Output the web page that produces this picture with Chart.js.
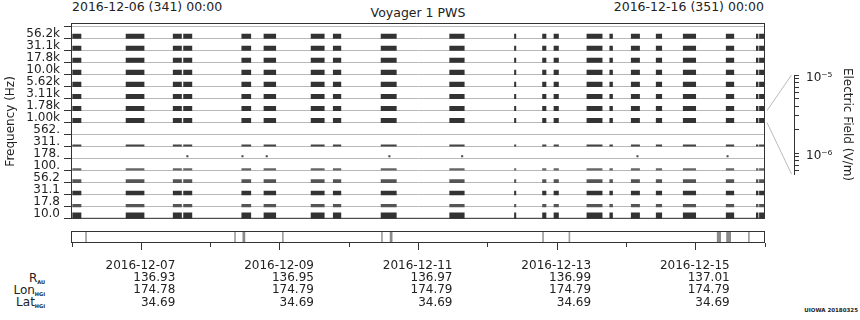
<!DOCTYPE html>
<html>
<head>
<meta charset="utf-8">
<script src="https://cdn.jsdelivr.net/npm/chart.js@4.4.1/dist/chart.umd.min.js"></script>
<style>
  html, body { margin: 0; padding: 0; background: #fff; }
  body { width: 860px; height: 320px; position: relative; overflow: hidden; font-family: 'DejaVu Sans', sans-serif; color: #222; }
  canvas { position: absolute; }
  .txt { position: absolute; font-size: 12.5px; line-height: 14px; white-space: nowrap; }
  .row { position: absolute; left: 0; width: 45px; text-align: right; font-size: 12px; line-height: 12px; white-space: nowrap; }
  .row span { font-size: 5px; font-weight: bold; position: relative; top: 2px; }
  .stamp { position: absolute; right: 2px; top: 307px; font-size: 5.5px; font-weight: bold; }
</style>
</head>
<body>
<div class="txt" style="left:72px; top:0px;">2016-12-06 (341) 00:00</div>
<div class="txt" style="left:0; width:836px; text-align:center; top:6px;">Voyager 1 PWS</div>
<div class="txt" style="left:0; width:764px; text-align:right; top:0px;">2016-12-16 (351) 00:00</div>
<div class="row" style="top:272px;">R<span>AU</span></div>
<div class="row" style="top:284px;">Lon<span>HGI</span></div>
<div class="row" style="top:296px;">Lat<span>HGI</span></div>
<div class="stamp">UIOWA 20180325</div>

<canvas id="cb" width="160" height="130" style="left:700px; top:60px;"></canvas>
<canvas id="main" width="860" height="230" style="left:0; top:0;"></canvas>
<canvas id="strip" width="860" height="95" style="left:0; top:225px;"></canvas>

<script>
// frequency channels, bottom row first
const freqLabels = ['10.0', '17.8', '31.1', '56.2', '100.', '178.', '311.', '562.',
  '1.00k', '1.78k', '3.11k', '5.62k', '10.0k', '17.8k', '31.1k', '56.2k'];

// observation intervals, days after 2016-12-06 00:00
const obsStart = [0.01, 0.78, 1.46, 1.61, 2.45, 2.77, 3.45, 3.77, 4.46, 5.45, 6.385,
  6.79, 6.955, 7.43, 7.76, 8.07, 8.43, 8.82, 9.44, 9.875, 9.92];
const obsEnd = [0.13, 1.04, 1.58, 1.73, 2.58, 2.94, 3.64, 3.88, 4.68, 5.66, 6.405,
  6.84, 7.02, 7.65, 7.80, 8.19, 8.51, 9.00, 9.55, 9.90, 10.0];

// isolated points seen in the 178 Hz row
const dots178 = [1.655, 2.45, 2.80, 4.57, 5.62, 8.15, 9.45];

// strip under the panel
const stripStart = [0.195, 2.345, 2.465, 3.035, 4.465, 4.59, 6.79, 7.17, 9.31, 9.445, 9.76];
const stripEnd = [0.21, 2.36, 2.495, 3.05, 4.48, 4.62, 6.805, 7.185, 9.36, 9.505, 9.775];

const majorDays = [1, 3, 5, 7, 9];
const minorDays = [0, 2, 4, 6, 8, 10];
const dateLabels = ['2016-12-07', '2016-12-09', '2016-12-11', '2016-12-13', '2016-12-15'];
const rAU = ['136.93', '136.95', '136.97', '136.99', '137.01'];
const lonHGI = ['174.78', '174.79', '174.79', '174.79', '174.79'];
const latHGI = ['34.69', '34.69', '34.69', '34.69', '34.69'];

const efMin = 5.45e-7;
const efMax = 1e-5;
const efTicks = [6e-7, 7e-7, 8e-7, 9e-7, 1e-6, 2e-6, 3e-6, 4e-6, 5e-6, 6e-6, 7e-6, 8e-6, 9e-6, 1e-5];

// row look: bar height px, lift above the row line px, colour
const chanHeight = [6, 2.6, 3.8, 3.2, 1.6, 0, 1.2, 0, 4.4, 4.4, 4.4, 4.4, 4.4, 4.4, 4.4, 4.4];
const chanLift = [0, 0, 0, 0, 0.6, 0, 0.6, 0, 0, 0, 0, 0, 0, 0, 0, 0];
const chanColor = ['#333', '#555', '#333', '#555', '#666', '#333', '#444', '#333',
  '#333', '#333', '#333', '#333', '#333', '#333', '#333', '#333'];
const linkedBand = 8;

const font12 = { family: 'DejaVu Sans', size: 12 };
const yMax = 16.2;
const bandPx = 200 / yMax;

const framePlugin = {
  id: 'frame',
  afterDraw(chart) {
    const { ctx, chartArea: a } = chart;
    ctx.save();
    ctx.strokeStyle = '#333';
    ctx.lineWidth = 1;
    ctx.strokeRect(a.left - 0.5, a.top - 0.5, a.right - a.left, a.bottom - a.top);
    ctx.restore();
  },
};

// colour bar axis on the right
const cbChart = new Chart(document.getElementById('cb'), {
  type: 'line',
  data: { datasets: [] },
  options: {
    animation: false,
    responsive: false,
    events: [],
    layout: { padding: { left: 88, top: 15, bottom: 16, right: 0 } },
    plugins: { legend: { display: false }, tooltip: { enabled: false } },
    scales: {
      x: { display: false },
      y: {
        type: 'logarithmic',
        position: 'right',
        min: efMin,
        max: efMax,
        afterBuildTicks: (s) => { s.ticks = efTicks.map((v) => ({ value: v })); },
        afterFit: (s) => { s.width = 66; },
        grid: { drawOnChartArea: false, tickLength: 5, tickColor: '#333' },
        border: { display: true, color: '#333' },
        ticks: {
          autoSkip: false,
          padding: 7,
          labelOffset: 3,
          color: '#222',
          font: font12,
          callback: (v) => {
            if (Math.abs(v - 1e-5) < 1e-12) return '10\u207B\u2075';
            if (Math.abs(v - 1e-6) < 1e-13) return '10\u207B\u2076';
            return '';
          },
        },
        title: {
          display: true,
          text: 'Electric Field (V/m)',
          color: '#222',
          font: font12,
          padding: { top: 6, bottom: 0 },
        },
      },
    },
  },
});

const linkPlugin = {
  id: 'link',
  afterDraw(chart) {
    const { ctx } = chart;
    const y = chart.scales.y;
    const cb = cbChart.chartArea;
    const x0 = chart.chartArea.right + 2;
    const x1 = 700 + cb.right - 2.5;
    ctx.save();
    ctx.strokeStyle = '#bbb';
    ctx.lineWidth = 1;
    ctx.beginPath();
    ctx.moveTo(x0, y.getPixelForValue(linkedBand + 1));
    ctx.lineTo(x1, 60 + cb.top);
    ctx.moveTo(x0, y.getPixelForValue(linkedBand));
    ctx.lineTo(x1, 60 + cb.bottom);
    ctx.stroke();
    ctx.restore();
  },
};

const datasets = [];
freqLabels.forEach((lab, i) => {
  const h = chanHeight[i];
  if (!h) return;
  datasets.push({
    label: lab,
    data: obsStart.map((s, k) => ({ x: [s, obsEnd[k]], y: i + (chanLift[i] + h / 2) / bandPx })),
    backgroundColor: chanColor[i],
    barThickness: h,
    grouped: false,
  });
});
datasets.push({
  label: '178. dots',
  data: dots178.map((t) => ({ x: [t, t + 0.02], y: 5 + 2.5 / bandPx })),
  backgroundColor: '#444',
  barThickness: 1.2,
  grouped: false,
});

new Chart(document.getElementById('main'), {
  type: 'bar',
  data: { datasets },
  plugins: [framePlugin, linkPlugin],
  options: {
    indexAxis: 'y',
    animation: false,
    responsive: false,
    events: [],
    layout: { padding: { left: 0, right: 95, top: 24, bottom: 6 } },
    plugins: { legend: { display: false }, tooltip: { enabled: false } },
    scales: {
      x: { type: 'linear', min: 0, max: 10, display: false },
      y: {
        type: 'linear',
        min: 0,
        max: yMax,
        offset: false,
        afterBuildTicks: (s) => { s.ticks = freqLabels.map((l, i) => ({ value: i })).concat([{ value: 16 }]); },
        afterFit: (s) => { s.width = 72; },
        grid: { offset: false, color: '#b8b8b8', tickColor: '#333', tickLength: 8 },
        border: { display: false },
        ticks: {
          autoSkip: false,
          padding: 4,
          labelOffset: -4.5,
          color: '#222',
          font: font12,
          callback: (v) => freqLabels[v] ?? '',
        },
        title: {
          display: true,
          text: 'Frequency (Hz)',
          color: '#222',
          font: font12,
          padding: { top: 4, bottom: 0 },
        },
      },
    },
  },
});

new Chart(document.getElementById('strip'), {
  type: 'bar',
  data: {
    labels: [''],
    datasets: [{
      data: stripStart.map((s, k) => ({ x: [s, stripEnd[k]], y: '' })),
      backgroundColor: stripStart.map((s, k) => (stripEnd[k] - s > 0.02 ? '#8a8a8a' : '#a0a0a0')),
      barPercentage: 1,
      categoryPercentage: 1,
    }],
  },
  plugins: [framePlugin],
  options: {
    indexAxis: 'y',
    animation: false,
    responsive: false,
    events: [],
    layout: { padding: { left: 72, right: 95, top: 7, bottom: 0 } },
    plugins: { legend: { display: false }, tooltip: { enabled: false } },
    scales: {
      y: { type: 'category', display: false },
      x: {
        type: 'linear',
        min: 0,
        max: 10,
        position: 'bottom',
        weight: 1,
        afterBuildTicks: (s) => { s.ticks = majorDays.map((v) => ({ value: v })); },
        afterFit: (s) => { s.height = 77; },
        grid: { drawOnChartArea: false, tickLength: 7, tickColor: '#333' },
        border: { display: false },
        ticks: {
          autoSkip: false,
          maxRotation: 0,
          align: 'end',
          labelOffset: 34,
          padding: 9.6,
          color: '#222',
          font: { family: 'DejaVu Sans', size: 12, lineHeight: 1.02 },
          callback: (v, i) => [dateLabels[i], rAU[i], lonHGI[i], latHGI[i]],
        },
      },
      x2: {
        type: 'linear',
        min: 0,
        max: 10,
        position: 'bottom',
        weight: 0,
        afterBuildTicks: (s) => { s.ticks = minorDays.map((v) => ({ value: v })); },
        afterFit: (s) => { s.height = 0; },
        grid: { drawOnChartArea: false, tickLength: 4, tickColor: '#333' },
        border: { display: false },
        ticks: { display: false },
      },
    },
  },
});
</script>
</body>
</html>
